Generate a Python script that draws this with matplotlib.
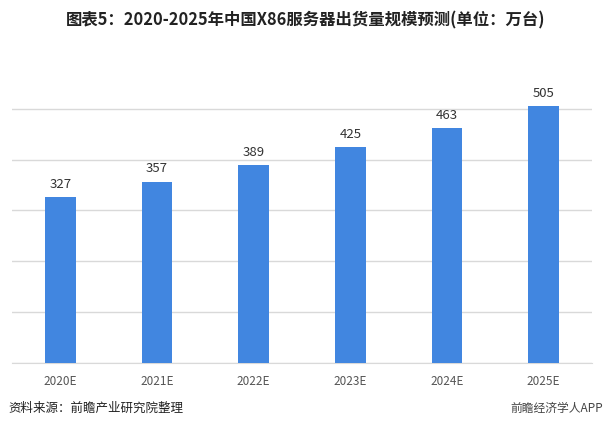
import matplotlib
matplotlib.use("Agg")
import matplotlib.pyplot as plt

plt.rcParams['font.family'] = ['Noto Sans CJK SC', 'DejaVu Sans']

categories = ["2020E", "2021E", "2022E", "2023E", "2024E", "2025E"]
values = [327, 357, 389, 425, 463, 505]
grid_ticks = [0, 100, 200, 300, 400, 500]

fig = plt.figure(figsize=(6.11, 4.30), dpi=100)
ax = fig.add_axes([12/611, 1 - 363/430, 580/611, (363 - 90)/430])

x = range(len(categories))
ax.bar(x, values, width=0.32, color='#4186e0', zorder=3)
for xi, v in zip(x, values):
    ax.text(xi, v + 12, str(v), ha='center', va='bottom', fontsize=9.5, color='#333333')

ax.set_xlim(-0.5, len(categories) - 0.5)
ax.set_ylim(0, 537)
ax.set_yticks(grid_ticks)
ax.yaxis.grid(True, color='#d9d9d9', linewidth=1, zorder=0)
ax.tick_params(axis='y', left=False, labelleft=False)
ax.tick_params(axis='x', bottom=False, labelsize=8.5, labelcolor='#555555', pad=5)
ax.set_xticks(list(x))
ax.set_xticklabels(categories)
for s in ['top', 'right', 'left']:
    ax.spines[s].set_visible(False)
ax.spines['bottom'].set_color('#d9d9d9')

fig.text(0.5, 1 - 20/430, "图表5：2020-2025年中国X86服务器出货量规模预测(单位：万台)",
         ha='center', va='center', fontsize=11.8, fontweight='bold', color='#222222')
fig.text(8/611, 1 - 408/430, "资料来源：前瞻产业研究院整理", ha='left', va='center',
         fontsize=9, color='#222222')
fig.text(603/611, 1 - 408/430, "前瞻经济学人APP", ha='right', va='center',
         fontsize=8.5, color='#444444')

fig.savefig("out.png", dpi=100)
